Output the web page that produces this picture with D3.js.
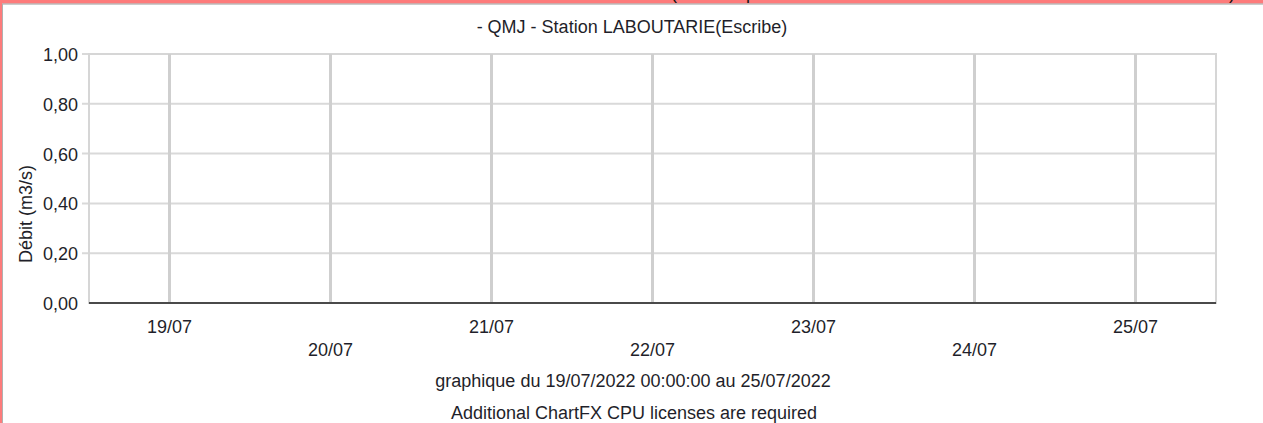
<!DOCTYPE html>
<html>
<head>
<meta charset="utf-8">
<script src="https://cdn.jsdelivr.net/npm/d3@7"></script>
<style>
  html, body { margin: 0; padding: 0; background: #fff; overflow: hidden; }
  svg { display: block; font-family: "Liberation Sans", Arial, sans-serif; }
</style>
</head>
<body>
<svg id="chart" width="1263" height="423"></svg>
<script>
// ---- data ----
const chartTitle = "- QMJ - Station LABOUTARIE(Escribe)";
const yAxisTitle = "Débit (m3/s)";
const footerLines = ["graphique du 19/07/2022 00:00:00 au 25/07/2022", "Additional ChartFX CPU licenses are required"];
const dayTicks = ["2022-07-19", "2022-07-20", "2022-07-21", "2022-07-22", "2022-07-23", "2022-07-24", "2022-07-25"];
const xDomain = ["2022-07-18T12:00:00", "2022-07-25T12:00:00"];
const yTicks = [0, 0.2, 0.4, 0.6, 0.8, 1.0];
const yDomain = [0, 1];
// series has no recorded values for this period
const seriesDates = [];
const seriesValues = [];

// ---- layout ----
const W = 1263, H = 423;
const plot = { left: 89, right: 1216, top: 54, bottom: 303 };
const svg = d3.select("#chart");
const textColor = "#1f1f2a";
const fs = 18;

// outer frame (red strip + grey edge)
svg.append("rect").attr("x", 0).attr("y", 0).attr("width", W).attr("height", 3.5).attr("fill", "#fd7b7b");
svg.append("rect").attr("x", 0).attr("y", 0).attr("width", 2).attr("height", H).attr("fill", "#fd7b7b");
svg.append("line").attr("x1", 2).attr("x2", W).attr("y1", 4).attr("y2", 4).attr("stroke", "#9a9a9a").attr("stroke-width", 1);
svg.append("line").attr("x1", 2.5).attr("x2", 2.5).attr("y1", 4).attr("y2", H).attr("stroke", "#b0b0b0").attr("stroke-width", 1);
// clipped text fragments peeking from above
[["(", 671], ["p", 746], [")", 1229]].forEach(([t, x]) => {
  svg.append("text").attr("x", x).attr("y", -1.5).attr("font-size", fs).attr("fill", "#111").text(t);
});

const parse = d3.isoParse;
const x = d3.scaleTime().domain(xDomain.map(parse)).range([plot.left, plot.right]);
const y = d3.scaleLinear().domain(yDomain).range([plot.bottom, plot.top]);
const fmt = v => d3.format(".2f")(v).replace(".", ",");
const dayFmt = d3.timeFormat("%d/%m");

// horizontal gridlines + tick marks
const gy = svg.append("g");
yTicks.forEach(v => {
  if (v === 0) return;
  gy.append("line").attr("x1", plot.left - 7).attr("x2", plot.right)
    .attr("y1", y(v)).attr("y2", y(v)).attr("stroke", "#d9d9d9").attr("stroke-width", 2);
});
// plot border
svg.append("rect").attr("x", plot.left).attr("y", plot.top)
  .attr("width", plot.right - plot.left).attr("height", plot.bottom - plot.top)
  .attr("fill", "none").attr("stroke", "#d6d6d6").attr("stroke-width", 2);

// vertical gridlines
dayTicks.map(parse).forEach(d => {
  svg.append("line").attr("x1", x(d)).attr("x2", x(d)).attr("y1", plot.top).attr("y2", plot.bottom)
    .attr("stroke", "#cfcfcf").attr("stroke-width", 3);
});

// y labels
yTicks.forEach(v => {
  svg.append("text").attr("x", 78).attr("y", y(v) + 7).attr("text-anchor", "end")
    .attr("font-size", fs).attr("fill", textColor).text(fmt(v));
});

// series line (empty)
if (seriesValues.length) {
  svg.append("path").datum(seriesDates.map((d, i) => [parse(d), seriesValues[i]]))
    .attr("fill", "none").attr("stroke", "#333").attr("stroke-width", 2)
    .attr("d", d3.line().x(d => x(d[0])).y(d => y(d[1])));
}

// bottom axis line
svg.append("line").attr("x1", plot.left).attr("x2", plot.right)
  .attr("y1", y(0)).attr("y2", y(0)).attr("stroke", "#4a4a4a").attr("stroke-width", 2);

// x labels (staggered)
dayTicks.map(parse).forEach((d, i) => {
  svg.append("text").attr("x", x(d)).attr("y", i % 2 === 0 ? 333 : 356)
    .attr("text-anchor", "middle").attr("font-size", fs).attr("fill", textColor).text(dayFmt(d));
});

// title
svg.append("text").attr("x", 632).attr("y", 33).attr("text-anchor", "middle")
  .attr("font-size", fs).attr("fill", textColor).text(chartTitle);

// y axis title
svg.append("text").attr("transform", "translate(31.5,214) rotate(-90)").attr("text-anchor", "middle")
  .attr("font-size", fs).attr("fill", textColor).text(yAxisTitle);

// footer
svg.append("text").attr("x", 633).attr("y", 386.5).attr("text-anchor", "middle")
  .attr("font-size", fs).attr("fill", textColor).text(footerLines[0]);
svg.append("text").attr("x", 634).attr("y", 419).attr("text-anchor", "middle")
  .attr("font-size", fs).attr("fill", textColor).text(footerLines[1]);
</script>
</body>
</html>
